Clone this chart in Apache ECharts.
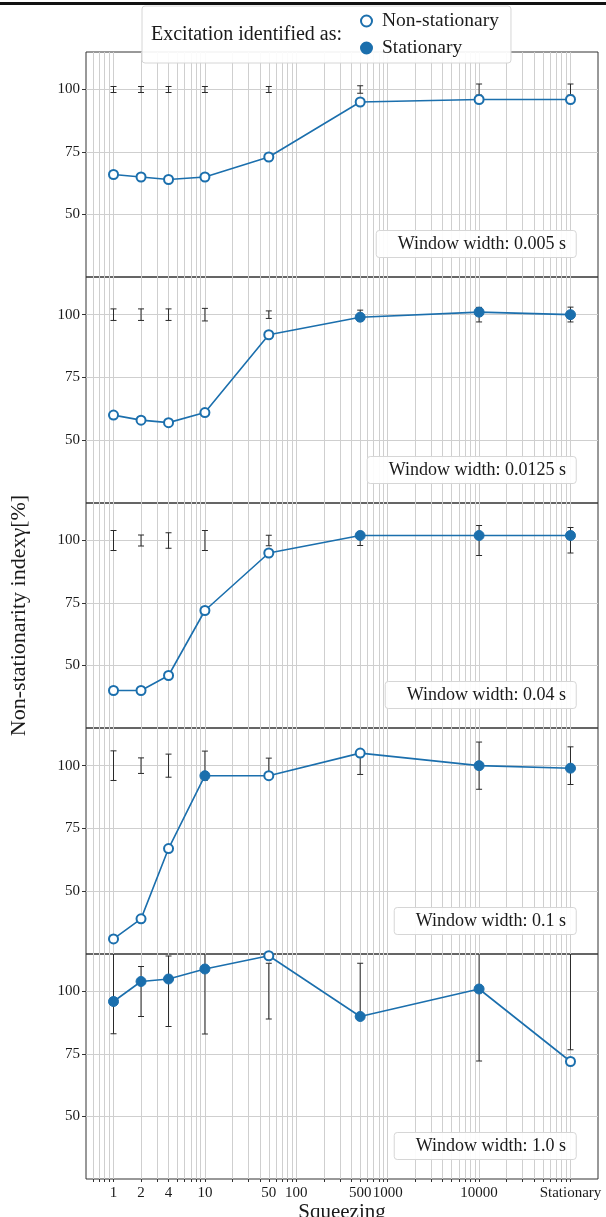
<!DOCTYPE html>
<html><head><meta charset="utf-8">
<script src="https://cdn.jsdelivr.net/npm/echarts@6/dist/echarts.min.js"></script>
<style>html,body{margin:0;padding:0;background:#fff}#chart{width:606px;height:1217px}</style>
</head><body><div id="chart"></div>
<script>
// ---------- data ----------
const squeezingLabels = ["1", "2", "4", "10", "50", "500", "10000", "Stationary"];
const squeezingPos = [1, 2, 4, 10, 50, 500, 10000, 100000];   // "Stationary" drawn at 1e5
const tickLabels = ["1", "2", "4", "10", "50", "100", "500", "1000", "10000", "Stationary"];
const tickPos = [1, 2, 4, 10, 50, 100, 500, 1000, 10000, 100000];
const yTicks = [50, 75, 100];
const windowLabels = ["Window width: 0.005 s", "Window width: 0.0125 s", "Window width: 0.04 s", "Window width: 0.1 s", "Window width: 1.0 s"];

// gamma values per window width; state: N = non-stationary (open), S = stationary (filled)
const gamma_0005 = [66, 65, 64, 65, 73, 95, 96, 96];
const state_0005 = ["N", "N", "N", "N", "N", "N", "N", "N"];
const errLo_0005 = [98.8, 98.8, 98.8, 98.8, 98.8, 98.5, 97.8, 97.8];
const errHi_0005 = [101.2, 101.2, 101.2, 101.2, 101.2, 101.5, 102.2, 102.2];

const gamma_00125 = [60, 58, 57, 61, 92, 99, 101, 100];
const state_00125 = ["N", "N", "N", "N", "N", "S", "S", "S"];
const errLo_00125 = [97.7, 97.7, 97.7, 97.5, 98.5, 97.5, 97.1, 97.1];
const errHi_00125 = [102.3, 102.3, 102.3, 102.5, 101.5, 101.8, 102.9, 103.0];

const gamma_004 = [40, 40, 46, 72, 95, 102, 102, 102];
const state_004 = ["N", "N", "N", "N", "N", "S", "S", "S"];
const errLo_004 = [96.0, 97.8, 96.9, 96.0, 97.9, 98.0, 94.0, 95.0];
const errHi_004 = [104.0, 102.2, 103.1, 104.0, 102.1, 103.6, 106.0, 105.2];

const gamma_01 = [31, 39, 67, 96, 96, 105, 100, 99];
const state_01 = ["N", "N", "N", "S", "N", "N", "S", "S"];
const errLo_01 = [94.1, 96.9, 95.4, 94.2, 97.0, 96.5, 90.6, 92.5];
const errHi_01 = [105.9, 103.1, 104.6, 105.8, 103.0, 103.5, 109.4, 107.5];

const gamma_1 = [96, 104, 105, 109, 114.3, 90, 101, 72];
const state_1 = ["S", "S", "S", "S", "N", "S", "S", "N"];
const errLo_1 = [83.1, 90.0, 86.0, 83.0, 89.0, 88.7, 72.2, 76.7];
const errHi_1 = [116.9, 110.0, 114.2, 117.0, 111.3, 111.3, 127.8, 123.3];

const panels = [
  {gamma: gamma_0005, state: state_0005, lo: errLo_0005, hi: errHi_0005},
  {gamma: gamma_00125, state: state_00125, lo: errLo_00125, hi: errHi_00125},
  {gamma: gamma_004, state: state_004, lo: errLo_004, hi: errHi_004},
  {gamma: gamma_01, state: state_01, lo: errLo_01, hi: errHi_01},
  {gamma: gamma_1, state: state_1, lo: errLo_1, hi: errHi_1}
];

// ---------- styling / layout ----------
const FONT = "'Liberation Serif', 'Times New Roman', serif";
const BLUE = '#1b6fad';
const INK = '#1a1a1a';
const GRID_LEFT = 86, GRID_RIGHT = 8, TOP0 = 51.7, PANEL_H = 225.5;
const xMin = Math.log10(0.5), xMax = Math.log10(2e5);

const gridLines = [];
for (let d = -1; d <= 5; d++) {
  for (let k = 1; k <= 9; k++) {
    const v = k * Math.pow(10, d);
    if (v > 0.5001 && v < 1.9e5) gridLines.push(Math.log10(v));
  }
}
const tickPosLog = tickPos.map(v => Math.log10(v));

function renderErr(params, api) {
  const x = api.value(0), lo = api.value(1), hi = api.value(2);
  const pLo = api.coord([x, lo]), pHi = api.coord([x, hi]);
  const cs = params.coordSys;
  const top = cs.y, bot = cs.y + cs.height;
  const y1 = Math.max(pHi[1], top), y2 = Math.min(pLo[1], bot);
  const st = {stroke: '#2a2a2a', lineWidth: 1};
  const ch = [{type: 'line', shape: {x1: pLo[0], y1: y1, x2: pLo[0], y2: y2}, style: st}];
  const cw = 3;
  if (pHi[1] >= top) ch.push({type: 'line', shape: {x1: pHi[0] - cw, y1: pHi[1], x2: pHi[0] + cw, y2: pHi[1]}, style: st});
  if (pLo[1] <= bot) ch.push({type: 'line', shape: {x1: pLo[0] - cw, y1: pLo[1], x2: pLo[0] + cw, y2: pLo[1]}, style: st});
  return {type: 'group', children: ch};
}

const grids = [], xAxes = [], yAxes = [], series = [], titles = [];
panels.forEach((p, i) => {
  const top = Math.round(TOP0 + PANEL_H * i);
  const bottom = Math.round(TOP0 + PANEL_H * (i + 1));
  const last = i === panels.length - 1;
  grids.push({left: GRID_LEFT, right: GRID_RIGHT, top: top, height: bottom - top,
    show: true, borderColor: '#333', borderWidth: 1, backgroundColor: 'transparent',
    containLabel: false, outerBoundsMode: 'none'});
  xAxes.push({
    type: 'value', gridIndex: i, min: xMin, max: xMax, position: 'bottom',
    axisLine: {show: false, onZero: false},
    axisTick: {show: last, length: 3, customValues: gridLines, lineStyle: {color: '#333'}},
    splitLine: {show: true, lineStyle: {color: '#cfcfcf', width: 1}},
    axisLabel: {show: last, customValues: tickPosLog, hideOverlap: false, margin: 7,
      fontFamily: FONT, fontSize: 15, color: INK,
      formatter: v => { const k = tickPosLog.findIndex(t => Math.abs(t - v) < 1e-6); return k >= 0 ? tickLabels[k] : ''; }},
    name: last ? 'Squeezing' : '', nameLocation: 'middle', nameGap: 16,
    nameTextStyle: {fontFamily: FONT, fontSize: 21, color: INK}
  });
  yAxes.push({
    type: 'value', gridIndex: i, min: 25, max: 115, position: 'left',
    axisLine: {show: false, onZero: false},
    axisTick: {show: true, length: 4, customValues: yTicks, lineStyle: {color: '#333'}},
    splitLine: {show: true, lineStyle: {color: '#cfcfcf', width: 1}},
    axisLabel: {customValues: yTicks, margin: 6, fontFamily: FONT, fontSize: 15, color: INK},
    name: i === 2 ? 'Non-stationarity indexγ[%]' : '', nameLocation: 'middle', nameGap: 56, nameRotate: 90,
    nameTextStyle: {fontFamily: FONT, fontSize: 22, color: INK}
  });
  const pts = squeezingPos.map((x, j) => [Math.log10(x), p.gamma[j]]);
  series.push({
    type: 'custom', xAxisIndex: i, yAxisIndex: i, renderItem: renderErr, z: 2, silent: true,
    data: squeezingPos.map((x, j) => [Math.log10(x), p.lo[j], p.hi[j]])
  });
  series.push({
    type: 'line', xAxisIndex: i, yAxisIndex: i, data: pts, symbol: 'none', z: 3, silent: true,
    lineStyle: {color: BLUE, width: 1.6}
  });
  series.push({
    name: 'Non-stationary', type: 'scatter', xAxisIndex: i, yAxisIndex: i, z: 4, silent: true,
    symbol: 'circle', symbolSize: 9,
    itemStyle: {color: '#fff', borderColor: BLUE, borderWidth: 2, opacity: 1},
    data: pts.filter((_, j) => p.state[j] === 'N')
  });
  series.push({
    name: 'Stationary', type: 'scatter', xAxisIndex: i, yAxisIndex: i, z: 4, silent: true,
    symbol: 'circle', symbolSize: 10,
    itemStyle: {color: BLUE, borderColor: BLUE, borderWidth: 1, opacity: 1},
    data: pts.filter((_, j) => p.state[j] === 'S')
  });
  titles.push({
    text: windowLabels[i], right: 30, top: bottom - 47,
    padding: [5, 10, 5, 22], backgroundColor: 'rgba(255,255,255,0.92)',
    borderColor: '#d6d6d6', borderWidth: 1, borderRadius: 3,
    textStyle: {fontFamily: FONT, fontSize: 18, fontWeight: 'normal', color: INK}
  });
});

titles.push({
  text: 'Excitation identified as:', left: 151, top: 25, padding: 0, z: 10,
  textStyle: {fontFamily: FONT, fontSize: 20, fontWeight: 'normal', color: INK}
});

const chart = echarts.init(document.getElementById('chart'), null, {renderer: 'canvas'});
chart.setOption({
  animation: false,
  backgroundColor: '#fff',
  title: titles,
  legend: {
    data: ['Non-stationary', 'Stationary'], orient: 'vertical', left: 142, top: 6,
    padding: [5, 12, 5, 218], itemGap: 7, itemWidth: 11, itemHeight: 11, icon: 'circle',
    backgroundColor: 'rgba(255,255,255,0.92)', borderColor: '#d6d6d6', borderWidth: 1, borderRadius: 3,
    selectedMode: false, z: 8,
    textStyle: {fontFamily: FONT, fontSize: 19.5, color: INK, padding: [0, 0, 0, 5]}
  },
  graphic: [{type: 'rect', shape: {x: 0, y: 2, width: 606, height: 3}, style: {fill: '#111'}, z: 100}],
  grid: grids, xAxis: xAxes, yAxis: yAxes, series: series
});
</script></body></html>
